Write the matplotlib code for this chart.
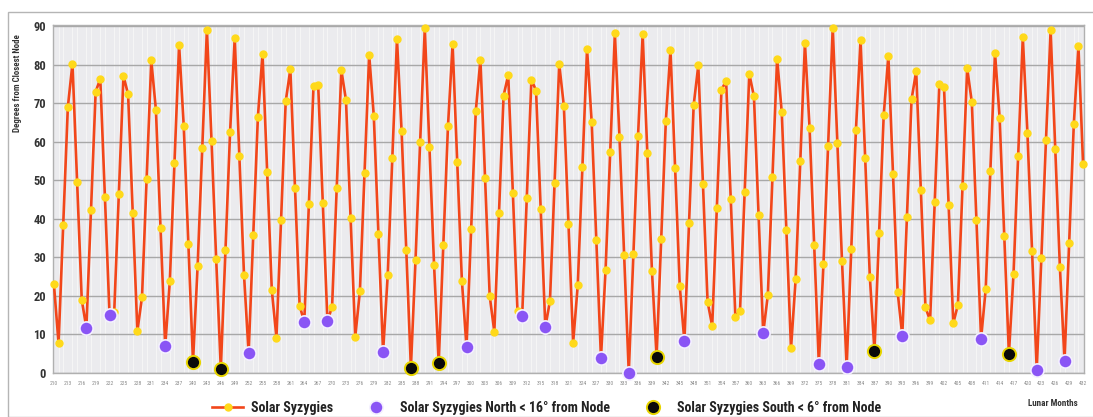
import matplotlib

matplotlib.use("Agg")
import matplotlib.pyplot as plt
from matplotlib.patches import Rectangle
from matplotlib import font_manager

# Lunaciones 210..432 (una syzygy solar por mes lunar)
months = list(range(210, 433))

# Grados desde el nodo mas cercano
degrees = [
    23.0, 7.7, 38.3, 69.0, 80.3, 49.6, 19.0, 11.7, 42.4, 73.0, 76.3, 45.6,
    15.0, 15.7, 46.4, 77.1, 72.3, 41.6, 10.9, 19.7, 50.4, 81.1, 68.3, 37.6,
    6.9, 23.8, 54.4, 85.1, 64.2, 33.6, 2.9, 27.8, 58.4, 89.1, 60.2, 29.5,
    1.1, 31.8, 62.5, 86.9, 56.2, 25.5, 5.2, 35.8, 66.5, 82.8, 52.2, 21.5,
    9.2, 39.8, 70.5, 78.8, 48.1, 17.5, 13.2, 43.9, 74.5, 74.8, 44.1, 13.4,
    17.2, 47.9, 78.6, 70.8, 40.1, 9.4, 21.2, 51.9, 82.6, 66.7, 36.1, 5.4,
    25.3, 55.9, 86.6, 62.7, 32.0, 1.4, 29.3, 60.0, 89.4, 58.7, 28.0, 2.6,
    33.3, 64.0, 85.3, 54.7, 24.0, 6.7, 37.3, 68.0, 81.3, 50.7, 20.0, 10.7,
    41.4, 72.0, 77.3, 46.6, 16.0, 14.7, 45.4, 76.1, 73.3, 42.6, 11.9, 18.7,
    49.4, 80.1, 69.3, 38.6, 7.9, 22.8, 53.4, 84.1, 65.2, 34.6, 3.9, 26.8,
    57.4, 88.1, 61.2, 30.5, 0.1, 30.8, 61.5, 87.9, 57.2, 26.5, 4.2, 34.8,
    65.5, 83.8, 53.2, 22.5, 8.2, 38.8, 69.5, 79.8, 49.1, 18.5, 12.2, 42.9,
    73.5, 75.8, 45.1, 14.5, 16.2, 46.9, 77.6, 71.8, 41.1, 10.4, 20.2, 50.9,
    81.6, 67.7, 37.1, 6.4, 24.3, 54.9, 85.6, 63.7, 33.1, 2.4, 28.3, 59.0,
    89.6, 59.7, 29.0, 1.6, 32.3, 63.0, 86.4, 55.7, 25.0, 5.7, 36.3, 67.0,
    82.3, 51.7, 21.0, 9.7, 40.4, 71.0, 78.3, 47.6, 17.0, 13.7, 44.4, 75.0,
    74.3, 43.6, 12.9, 17.7, 48.4, 79.1, 70.3, 39.6, 8.9, 21.8, 52.4, 83.1,
    66.2, 35.6, 4.9, 25.8, 56.4, 87.1, 62.2, 31.6, 0.9, 29.8, 60.5, 88.9,
    58.2, 27.5, 3.2, 33.8, 64.5, 84.8, 54.2,
]

# Meses marcados (norte < 16 grados, sur < 6 grados)
north_months = [217, 222, 234, 252, 264, 269, 281, 299, 311, 316,
                328, 334, 346, 363, 375, 381, 393, 410, 422, 428]
south_months = [240, 246, 287, 293, 340, 387, 416]

tick_months = list(range(210, 433, 3))

# fuente angosta si esta instalada
installed = {f.name for f in font_manager.fontManager.ttflist}
narrow = [f for f in ["Roboto Condensed", "Liberation Sans Narrow", "Roboto"] if f in installed]
FONT = narrow[:1] + ["DejaVu Sans"]
plt.rcParams["font.family"] = FONT

fig = plt.figure(figsize=(10.93, 4.17), dpi=100)
fig.patches.append(Rectangle((8 / 1093, 0.0), 1.0, 1 - 12 / 417, transform=fig.transFigure,
                             fill=False, edgecolor="#b5b5b5", linewidth=1.0))

ax = fig.add_axes([53 / 1093, 1 - 373 / 417, (1084 - 53) / 1093, (373 - 25) / 417])
ax.set_facecolor("#ebebee")

deg_by_month = dict(zip(months, degrees))
north_deg = [deg_by_month[m] for m in north_months]
south_deg = [deg_by_month[m] for m in south_months]

ax.plot(months, degrees, color="#f2461a", linewidth=1.9, marker="o",
        markersize=5.0, markerfacecolor="#ffd91a", markeredgecolor="#ffd91a",
        clip_on=False, zorder=3, label="Solar Syzygies")
ax.plot(north_months, north_deg, linestyle="none", marker="o", markersize=9.5,
        markerfacecolor="#8a55f5", markeredgecolor="#f4f0ff", markeredgewidth=1.2,
        clip_on=False, zorder=4, label="Solar Syzygies North < 16° from Node")
ax.plot(south_months, south_deg, linestyle="none", marker="o", markersize=9.5,
        markerfacecolor="#0a0a0a", markeredgecolor="#e8d500", markeredgewidth=1.4,
        clip_on=False, zorder=4, label="Solar Syzygies South < 6° from Node")

ax.set_xlim(209.8, 432.2)
ax.set_ylim(0, 90.3)
ax.set_yticks(range(0, 91, 10))
ax.set_xticks(tick_months)
ax.set_xticklabels([str(m) for m in tick_months], fontsize=4, color="#8a8a8a")
ax.set_xticks(months, minor=True)
ax.tick_params(axis="x", which="both", length=0, pad=6)
ax.tick_params(axis="y", length=0, labelsize=9, labelcolor="#333333", pad=5)
for lbl in ax.get_yticklabels():
    lbl.set_fontweight("bold")

ax.grid(axis="y", color="#a8a8a8", linewidth=1.0)
ax.grid(axis="x", which="minor", color="#f7f7f7", linewidth=0.6)
ax.set_axisbelow(True)
for spine in ax.spines.values():
    spine.set_color("#b0b0b0")
    spine.set_linewidth(1.0)

fig.text(18 / 1093, 1 - 34 / 417, "Degrees from Closest Node", rotation=90,
         ha="center", va="top", fontsize=6.4, fontweight="bold", color="#333333")
fig.text(1053 / 1093, 1 - 403 / 417, "Lunar Months", ha="center", va="center",
         fontsize=6.5, fontweight="bold", color="#333333")

fig.legend(loc="center", bbox_to_anchor=(0.5, 1 - 408 / 417), ncol=3, frameon=False,
           prop={"size": 10, "weight": "bold"}, handlelength=2.2, columnspacing=2.0,
           handletextpad=0.6, labelcolor="#222222")

fig.savefig("out.png", dpi=100)
